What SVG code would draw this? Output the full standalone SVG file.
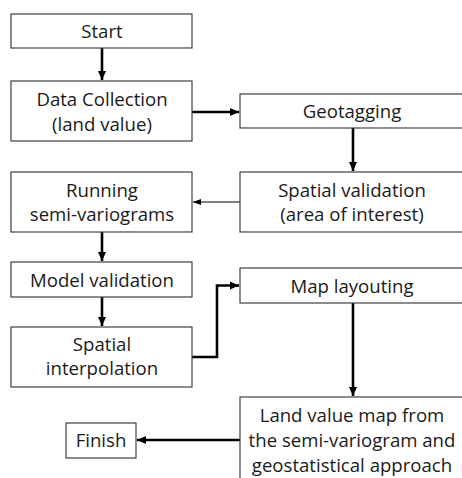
<svg xmlns="http://www.w3.org/2000/svg" width="462" height="478" viewBox="0 0 462 478">
<defs>
<style>
.box{fill:#fff;stroke:#404040;stroke-width:1.2}
.t{font-family:"Open Sans","Liberation Sans",sans-serif;font-size:18.6px;fill:#1a1a1a;text-anchor:middle}
.c{fill:none;stroke:#000;stroke-width:2.6}
.thin{fill:none;stroke:#000;stroke-width:1}
</style>
<marker id="ah" markerUnits="userSpaceOnUse" markerWidth="10" markerHeight="10" viewBox="0 0 10 10" refX="9" refY="5" orient="auto">
<path d="M0,1 L9,5 L0,9 Z" fill="#000"/>
</marker>
<marker id="ahs" markerUnits="userSpaceOnUse" markerWidth="9" markerHeight="8" viewBox="0 0 9 8" refX="8" refY="4" orient="auto">
<path d="M0,1 L8,4 L0,7 Z" fill="#000"/>
</marker>
</defs>
<rect width="462" height="478" fill="#fff"/>
<g id="connectors">
<line class="c" x1="102" y1="48" x2="102" y2="80" marker-end="url(#ah)"/>
<line class="c" x1="192" y1="112" x2="239" y2="112" marker-end="url(#ah)"/>
<line class="c" x1="353" y1="128" x2="353" y2="171" marker-end="url(#ah)"/>
<line class="thin" x1="240" y1="202" x2="193" y2="202" marker-end="url(#ahs)"/>
<line class="c" x1="102" y1="232" x2="102" y2="261" marker-end="url(#ah)"/>
<line class="c" x1="102" y1="297" x2="102" y2="326" marker-end="url(#ah)"/>
<polyline class="c" points="192,357 217,357 217,285.5 239,285.5" marker-end="url(#ah)"/>
<line class="c" x1="353" y1="303" x2="353" y2="396" marker-end="url(#ah)"/>
<line class="c" x1="240" y1="440" x2="137" y2="440" marker-end="url(#ah)"/>
</g>
<g id="start"><rect class="box" x="11" y="14" width="181" height="34"/><text class="t" x="102" y="38">Start</text></g>
<g id="data-collection"><rect class="box" x="11" y="81" width="181" height="60"/><text class="t" x="102" y="106">Data Collection</text><text class="t" x="102" y="131">(land value)</text></g>
<g id="geotagging"><rect class="box" x="240" y="94" width="224" height="34"/><text class="t" x="352" y="118">Geotagging</text></g>
<g id="spatial-validation"><rect class="box" x="240" y="172" width="224" height="60"/><text class="t" x="352" y="197">Spatial validation</text><text class="t" x="352" y="221">(area of interest)</text></g>
<g id="running"><rect class="box" x="11" y="172" width="181" height="60"/><text class="t" x="102" y="197">Running</text><text class="t" x="102" y="221">semi-variograms</text></g>
<g id="model-validation"><rect class="box" x="11" y="262" width="181" height="35"/><text class="t" x="102" y="287">Model validation</text></g>
<g id="spatial-interpolation"><rect class="box" x="11" y="327" width="181" height="60"/><text class="t" x="102" y="351">Spatial</text><text class="t" x="102" y="375">interpolation</text></g>
<g id="map-layouting"><rect class="box" x="240" y="268" width="224" height="35"/><text class="t" x="352" y="293">Map layouting</text></g>
<g id="land-value-map"><rect class="box" x="240" y="397" width="224" height="90"/><text class="t" x="352" y="422">Land value map from</text><text class="t" x="352" y="447">the semi-variogram and</text><text class="t" x="352" y="472">geostatistical approach</text></g>
<g id="finish"><rect class="box" x="66" y="423" width="70" height="35"/><text class="t" x="101" y="447">Finish</text></g>
</svg>
